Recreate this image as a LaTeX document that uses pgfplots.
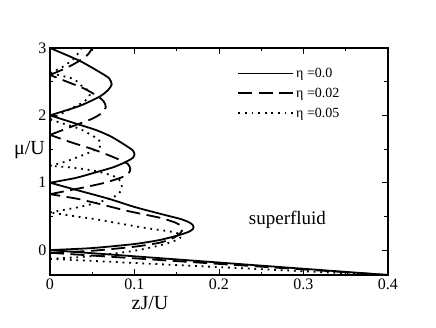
\documentclass[border=0pt]{standalone}
\usepackage{fontspec}
\setmainfont{Liberation Serif}
\usepackage{pgfplots}
\pgfplotsset{compat=1.18}
\begin{document}
\begin{tikzpicture}
\begin{axis}[
    scale only axis,
    width=338pt, height=227pt,
    xmin=0, xmax=0.4,
    ymin=-0.37, ymax=3,
    xtick={0,0.1,0.2,0.3,0.4}, xticklabels={0,0.1,0.2,0.3,0.4},
    ytick={0,1,2,3}, yticklabels={0,1,2,3},
    minor xtick={0.05,0.15,0.25,0.35},
    minor ytick={0.5,1.5,2.5},
    tick align=inside,
    major tick length=6pt, minor tick length=3.5pt,
    axis line style={line width=1.8pt},
    every tick/.style={black, line width=0.9pt},
    tick label style={font=\fontsize{16}{16}\selectfont},
    every axis x label/.style={at={(axis description cs:0.296,0)}, anchor=north, inner sep=0pt, yshift=-21pt, font=\fontsize{20}{20}\selectfont},
    every axis y label/.style={at={(axis description cs:0,0.55)}, anchor=east, inner sep=0pt, xshift=-5pt, font=\fontsize{20}{20}\selectfont},
    xlabel={zJ/U},
    ylabel={μ/U},
    legend style={draw=none, fill=none, at={(axis description cs:0.545,0.93)}, anchor=north west,
        font=\fontsize{14}{14}\selectfont, row sep=5pt},
    legend cell align=left,
    legend image code/.code={\draw[#1] (0pt,0pt) -- (55pt,0pt);},
    solid lobe/.style={black, line width=1.8pt, smooth, tension=0.4},
    dashed lobe/.style={black, line width=1.8pt, smooth, tension=0.4, dash pattern=on 14pt off 6.5pt},
    dotted lobe/.style={black, line width=1.8pt, smooth, tension=0.4, dash pattern=on 1.8pt off 4.8pt},
]
% eta = 0.0
\addplot[solid lobe] coordinates {
    (0,0) (0.05,0.03) (0.1,0.09) (0.13,0.15) (0.152,0.22) (0.164,0.27) (0.169,0.31) (0.17,0.34)
    (0.169,0.37) (0.165,0.41) (0.155,0.46) (0.13,0.54) (0.1,0.64) (0.07,0.76) (0.035,0.88) (0,1)
};
\addlegendentry{η =0.0}
% eta = 0.02
\addplot[dashed lobe] coordinates {
    (0,-0.04) (0.05,-0.01) (0.1,0.05) (0.13,0.11) (0.146,0.18) (0.154,0.25) (0.157,0.31)
    (0.155,0.36) (0.148,0.41) (0.13,0.48) (0.092,0.58) (0.06,0.68) (0.033,0.76) (0,0.83)
};
\addlegendentry{η =0.02}
% eta = 0.05
\addplot[dotted lobe] coordinates {
    (0,-0.13) (0.05,-0.09) (0.1,-0.01) (0.13,0.07) (0.146,0.13) (0.154,0.18) (0.155,0.21)
    (0.151,0.25) (0.14,0.28) (0.112,0.33) (0.08,0.40) (0.053,0.46) (0.025,0.51) (0,0.56)
};
\addlegendentry{η =0.05}

% remaining lobes, eta = 0.0
\addplot[black, line width=1.8pt, forget plot] coordinates {(0,0) (0.4,-0.37)};
\addplot[solid lobe, forget plot] coordinates {
    (0,1) (0.03,1.07) (0.053,1.15) (0.075,1.23) (0.09,1.31) (0.098,1.37) (0.1,1.42)
    (0.098,1.48) (0.09,1.55) (0.073,1.68) (0.055,1.78) (0.03,1.88) (0,2)
};
\addplot[solid lobe, forget plot] coordinates {
    (0,2) (0.035,2.14) (0.059,2.28) (0.069,2.38) (0.073,2.46)
    (0.07,2.55) (0.059,2.64) (0.035,2.81) (0,3)
};
% remaining lobes, eta = 0.02
\addplot[black, line width=1.8pt, dash pattern=on 14pt off 6.5pt, forget plot] coordinates {(0,-0.04) (0.4,-0.37)};
\addplot[dashed lobe, forget plot] coordinates {
    (0,0.83) (0.04,0.93) (0.065,1.0) (0.085,1.08) (0.093,1.14) (0.095,1.2)
    (0.092,1.28) (0.075,1.38) (0.05,1.5) (0.025,1.6) (0,1.71)
};
\addplot[dashed lobe, forget plot] coordinates {
    (0,1.71) (0.025,1.83) (0.05,1.95) (0.062,2.04) (0.066,2.12)
    (0.064,2.2) (0.057,2.28) (0.04,2.4) (0.02,2.5) (0,2.6)
};
\addplot[dashed lobe, forget plot] coordinates {
    (0,2.6) (0.015,2.68) (0.028,2.76) (0.04,2.85) (0.046,2.92) (0.05,3.0)
};
% remaining lobes, eta = 0.05
\addplot[black, line width=1.8pt, dash pattern=on 1.8pt off 4.8pt, forget plot] coordinates {(0,-0.13) (0.39,-0.37)};
\addplot[dotted lobe, forget plot] coordinates {
    (0,0.56) (0.035,0.64) (0.06,0.72) (0.077,0.8) (0.084,0.88) (0.085,0.95)
    (0.083,1.03) (0.075,1.1) (0.055,1.17) (0.03,1.22) (0,1.25)
};
\addplot[dotted lobe, forget plot] coordinates {
    (0,1.25) (0.02,1.32) (0.045,1.44) (0.057,1.51) (0.06,1.56)
    (0.058,1.63) (0.05,1.7) (0.035,1.8) (0.015,1.88) (0,1.94)
};
\addplot[dotted lobe, forget plot] coordinates {
    (0,1.94) (0.028,2.12) (0.04,2.2) (0.047,2.3)
    (0.044,2.38) (0.035,2.46) (0.028,2.54) (0,2.63)
};
\addplot[dotted lobe, forget plot] coordinates {
    (0,2.63) (0.015,2.72) (0.028,2.84) (0.035,2.95) (0.037,3.0)
};

\node[font=\fontsize{19}{19}\selectfont] at (axis cs:0.281,0.45) {superfluid};
\end{axis}
\path ([shift={(-50pt,-52pt)}]current axis.south west) rectangle ([shift={(48pt,48pt)}]current axis.north east);
\end{tikzpicture}
\end{document}
